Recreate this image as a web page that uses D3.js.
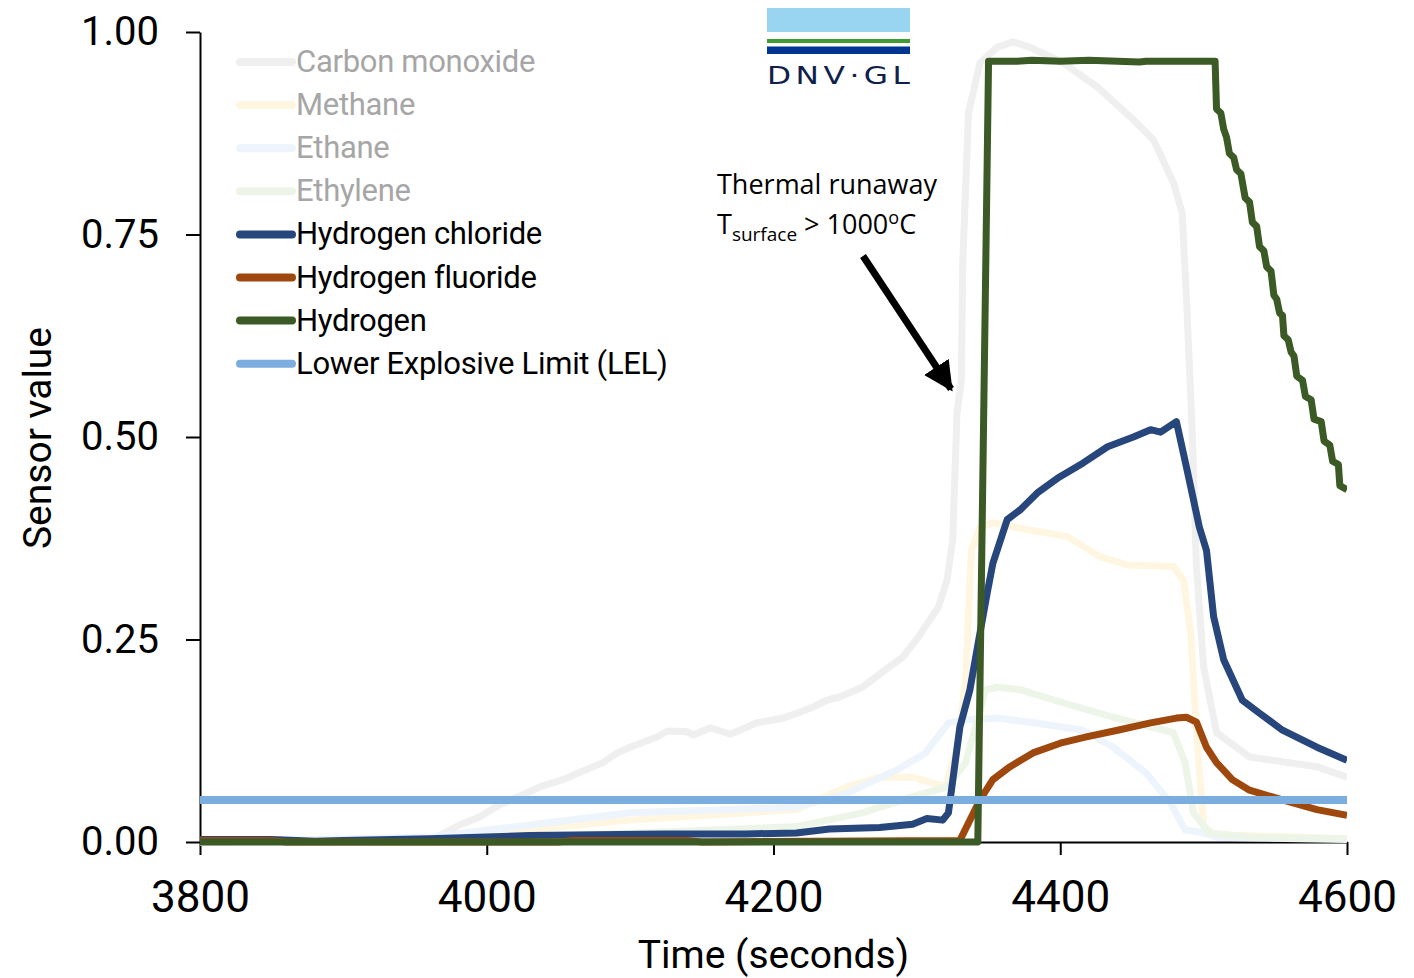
<!DOCTYPE html>
<html>
<head>
<meta charset="utf-8">
<script src="https://cdn.jsdelivr.net/npm/d3@7"></script>
<style>
  body { margin: 0; background: #fff; }
  svg { display: block; }
</style>
</head>
<body>
<svg id="chart" width="1414" height="978"></svg>
<script>
// sensor readings, [time (s), normalised value]
const carbonMonoxide = [
  [3800, 0], [3953, 0.001], [3965, 0.006], [3981, 0.021], [3995, 0.031], [4009, 0.046],
  [4025, 0.058], [4037, 0.068], [4053, 0.077], [4065, 0.086], [4081, 0.098], [4091, 0.110],
  [4100, 0.117], [4119, 0.130], [4126, 0.137], [4140, 0.136], [4144, 0.132], [4156, 0.141],
  [4170, 0.133], [4188, 0.147], [4207, 0.153], [4218, 0.160], [4228, 0.167], [4237, 0.175],
  [4246, 0.179], [4262, 0.191], [4276, 0.210], [4290, 0.228], [4301, 0.253], [4315, 0.290],
  [4321, 0.323], [4325, 0.373], [4328, 0.530], [4331, 0.570], [4332, 0.715], [4336, 0.900],
  [4344, 0.962], [4356, 0.981], [4367, 0.988], [4379, 0.981], [4402, 0.962], [4426, 0.932],
  [4449, 0.895], [4465, 0.867], [4479, 0.814], [4485, 0.777], [4488, 0.673], [4492, 0.509],
  [4495, 0.340], [4500, 0.216], [4509, 0.135], [4532, 0.105], [4555, 0.099], [4579, 0.093],
  [4600, 0.080],
];

const methane = [
  [3800, 0], [3960, 0.003], [4100, 0.027], [4216, 0.040], [4251, 0.068], [4274, 0.080],
  [4297, 0.080], [4320, 0.068], [4328, 0.117], [4334, 0.200], [4338, 0.360], [4344, 0.389],
  [4353, 0.394], [4370, 0.388], [4405, 0.377], [4428, 0.352], [4447, 0.342], [4479, 0.340],
  [4486, 0.323], [4491, 0.258], [4495, 0.135], [4500, 0.019], [4509, 0.009], [4600, 0.004],
];

const ethane = [
  [3800, 0], [3960, 0.006], [4100, 0.036], [4170, 0.040], [4216, 0.043], [4251, 0.060],
  [4286, 0.089], [4306, 0.110], [4322, 0.147], [4334, 0.151], [4356, 0.153], [4383, 0.147],
  [4416, 0.138], [4437, 0.117], [4460, 0.085], [4477, 0.048], [4487, 0.015], [4498, 0.012],
  [4509, 0.006], [4600, 0.003],
];

const ethylene = [
  [3800, 0], [3960, 0.001], [4216, 0.019], [4262, 0.036], [4297, 0.056], [4321, 0.068],
  [4334, 0.098], [4348, 0.188], [4356, 0.191], [4372, 0.188], [4396, 0.175], [4437, 0.154],
  [4479, 0.135], [4487, 0.098], [4493, 0.036], [4504, 0.011], [4534, 0.006], [4600, 0.004],
];

const hydrogenChloride = [
  [3800, 0.003], [3850, 0.003], [3880, 0.001], [3900, 0.002], [3960, 0.004], [4030, 0.008],
  [4123, 0.010], [4158, 0.010], [4181, 0.010], [4216, 0.011], [4239, 0.016], [4274, 0.018],
  [4297, 0.022], [4307, 0.029], [4318, 0.027], [4322, 0.036], [4330, 0.142], [4337, 0.188],
  [4344, 0.258], [4349, 0.307], [4353, 0.344], [4363, 0.398], [4372, 0.410], [4384, 0.431],
  [4398, 0.449], [4416, 0.468], [4433, 0.488], [4451, 0.500], [4463, 0.509], [4470, 0.506],
  [4481, 0.519], [4488, 0.463], [4497, 0.389], [4502, 0.360], [4507, 0.278], [4514, 0.225],
  [4527, 0.175], [4539, 0.159], [4555, 0.138], [4579, 0.117], [4600, 0.101],
];

const hydrogenFluoride = [
  [3800, 0.002], [3850, 0.002], [3860, 0], [4050, 0], [4060, 0.002], [4140, 0.002],
  [4150, 0], [4330, 0.002], [4337, 0.027], [4344, 0.052], [4353, 0.077], [4365, 0.093],
  [4381, 0.110], [4400, 0.122], [4419, 0.130], [4440, 0.138], [4463, 0.147], [4481, 0.153],
  [4488, 0.154], [4495, 0.148], [4502, 0.117], [4509, 0.098], [4520, 0.077], [4532, 0.064],
  [4555, 0.052], [4579, 0.040], [4600, 0.033],
];

const hydrogen = [
  [3800, 0], [4342.5, 0], [4350, 0.964], [4370, 0.964], [4380, 0.965], [4400, 0.964],
  [4420, 0.965], [4440, 0.964], [4455, 0.963], [4460, 0.964], [4508, 0.964], [4509, 0.905],
  [4512, 0.900], [4514, 0.880], [4516, 0.870], [4518, 0.850], [4521, 0.845], [4523, 0.830],
  [4526, 0.825], [4529, 0.795], [4532, 0.790], [4534, 0.765], [4537, 0.760], [4539, 0.735],
  [4542, 0.730], [4544, 0.710], [4547, 0.705], [4549, 0.675], [4551, 0.670], [4553, 0.653],
  [4555, 0.650], [4556, 0.625], [4559, 0.620], [4561, 0.605], [4563, 0.600], [4565, 0.575],
  [4569, 0.570], [4571, 0.550], [4575, 0.546], [4577, 0.522], [4582, 0.519], [4584, 0.495],
  [4588, 0.490], [4590, 0.470], [4594, 0.466], [4595, 0.440], [4600, 0.435],
];

const lowerExplosiveLimit = [[3800, 0.052], [4600, 0.052]];

const seriesNames = [
  'Carbon monoxide', 'Methane', 'Ethane', 'Ethylene',
  'Hydrogen chloride', 'Hydrogen fluoride', 'Hydrogen', 'Lower Explosive Limit (LEL)',
];
const seriesData = [
  carbonMonoxide, methane, ethane, ethylene,
  hydrogenChloride, hydrogenFluoride, hydrogen, lowerExplosiveLimit,
];
const xTicks = [3800, 4000, 4200, 4400, 4600];
const yTicks = [0, 0.25, 0.5, 0.75, 1];

// styling per series (faded ones are greyed in the legend)
const colors = ['#efefef', '#fff6e1', '#edf4fb', '#edf5e9', '#27467b', '#9e480e', '#3b5a26', '#7badde'];
const faded = [true, true, true, true, false, false, false, false];

const svg = d3.select('#chart');
const margin = { top: 32, right: 67, bottom: 136, left: 200 };
const width = 1414 - margin.left - margin.right;
const height = 978 - margin.top - margin.bottom;

const xScale = d3.scaleLinear().domain([3800, 4600]).range([0, width]);
const yScale = d3.scaleLinear().domain([0, 1]).range([height, 0]);

const g = svg.append('g')
  .attr('transform', `translate(${margin.left},${margin.top})`);

svg.append('defs').append('clipPath')
  .attr('id', 'plot-clip')
  .append('rect')
  .attr('x', 0).attr('y', -10)
  .attr('width', width).attr('height', height + 20);

// axes
const xAxis = g.append('g')
  .attr('transform', `translate(0,${height})`)
  .call(d3.axisBottom(xScale).tickValues(xTicks).tickFormat(d3.format('d'))
    .tickSizeInner(13).tickSizeOuter(0).tickPadding(26));
const yAxis = g.append('g')
  .call(d3.axisLeft(yScale).tickValues(yTicks).tickFormat(d3.format('.2f'))
    .tickSizeInner(14).tickSizeOuter(0).tickPadding(27));

[xAxis, yAxis].forEach((ax) => {
  ax.select('.domain').attr('stroke', '#000').attr('stroke-width', 2);
  ax.selectAll('.tick line').attr('stroke', '#000').attr('stroke-width', 2);
  ax.selectAll('text')
    .attr('fill', '#000')
    .style('font-family', 'Roboto, sans-serif');
});
xAxis.selectAll('text').style('font-size', '44px');
yAxis.selectAll('text').style('font-size', '40px');

// lines
const line = d3.line()
  .x((d) => xScale(d[0]))
  .y((d) => yScale(d[1]));

g.append('g')
  .attr('clip-path', 'url(#plot-clip)')
  .selectAll('path')
  .data(seriesData)
  .join('path')
  .attr('d', line)
  .attr('fill', 'none')
  .attr('stroke', (_d, i) => colors[i])
  .attr('stroke-width', (_d, i) => (i === 7 ? 8 : 7))
  .attr('stroke-linejoin', 'round');

// legend
const legend = svg.append('g').attr('transform', 'translate(240,62)');
const rows = legend.selectAll('g')
  .data(seriesNames)
  .join('g')
  .attr('transform', (_d, i) => `translate(0,${i * 43.1})`);
rows.append('line')
  .attr('x1', 0).attr('x2', 52)
  .attr('stroke', (_d, i) => colors[i])
  .attr('stroke-width', 8)
  .attr('stroke-linecap', 'round');
rows.append('text')
  .attr('x', 56)
  .attr('y', 10)
  .text((d) => d)
  .attr('fill', (_d, i) => (faded[i] ? '#a6a6a6' : '#000'))
  .style('font-family', 'Roboto, sans-serif')
  .style('font-size', '31px')
  .style('letter-spacing', '-0.3px');

// axis titles
svg.append('text')
  .attr('x', margin.left + width / 2)
  .attr('y', 968)
  .attr('text-anchor', 'middle')
  .style('font-family', 'Roboto, sans-serif')
  .style('font-size', '39px')
  .text('Time (seconds)');

svg.append('text')
  .attr('transform', 'translate(51,438) rotate(-90)')
  .attr('text-anchor', 'middle')
  .style('font-family', 'Roboto, sans-serif')
  .style('font-size', '39px')
  .text('Sensor value');

// annotation
const note = svg.append('g')
  .style('font-family', '"Open Sans", sans-serif')
  .style('font-size', '27px')
  .attr('fill', '#000');
note.append('text').attr('x', 717).attr('y', 194).text('Thermal runaway');
const line2 = note.append('text').attr('x', 717).attr('y', 234);
line2.append('tspan').text('T');
line2.append('tspan').attr('dy', 7).style('font-size', '19px').text('surface');
line2.append('tspan').attr('dy', -7).text(' > 1000');
line2.append('tspan').attr('dy', -10).style('font-size', '18px').text('o');
line2.append('tspan').attr('dy', 10).text('C');

svg.append('defs').append('marker')
  .attr('id', 'arrowhead')
  .attr('viewBox', '0 0 10 10')
  .attr('refX', 9).attr('refY', 5)
  .attr('markerWidth', 4.2).attr('markerHeight', 4.2)
  .attr('markerUnits', 'strokeWidth')
  .attr('orient', 'auto')
  .append('path')
  .attr('d', 'M0,0 L10,5 L0,10 z')
  .attr('fill', '#000');

svg.append('line')
  .attr('x1', 863).attr('y1', 256)
  .attr('x2', 951).attr('y2', 389)
  .attr('stroke', '#000')
  .attr('stroke-width', 7)
  .attr('marker-end', 'url(#arrowhead)');

// DNV GL logo
const logo = svg.append('g').attr('transform', 'translate(767,8)');
logo.append('rect').attr('width', 143).attr('height', 24).attr('fill', '#99d5f1');
logo.append('rect').attr('y', 31).attr('width', 143).attr('height', 4).attr('fill', '#3f9c35');
logo.append('rect').attr('y', 38.5).attr('width', 143).attr('height', 7.5).attr('fill', '#003591');
logo.append('text')
  .attr('transform', 'translate(0,76) scale(1.25,1)')
  .attr('textLength', 143 / 1.25)
  .attr('lengthAdjust', 'spacing')
  .attr('fill', '#0f204b')
  .style('font-family', '"DejaVu Sans", sans-serif')
  .style('font-size', '25px')
  .text('DNV·GL');
</script>
</body>
</html>
